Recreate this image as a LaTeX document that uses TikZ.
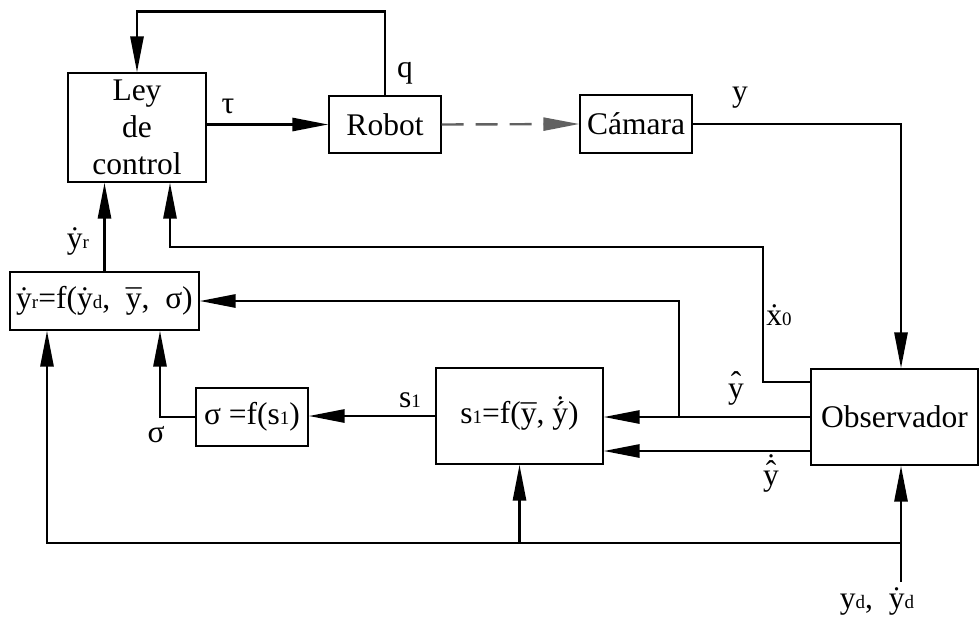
\documentclass[tikz,border=0pt]{standalone}
\usepackage{fontspec}
\setmainfont{Liberation Serif}
\usetikzlibrary{arrows.meta}
\newcommand\ac[3][0pt]{\ooalign{#3\cr\hidewidth\raisebox{#1}{#2}\hidewidth\cr}}
\newcommand\lo[1]{{\fontsize{19}{19}\selectfont #1}}
\tikzset{
  blk/.style={draw, line width=1.2pt, inner sep=0pt, align=center, font=\fontsize{31.5}{37}\selectfont},
  conn/.style={line width=2.8pt, -{Triangle[length=36pt,width=13pt]}},
  dashconn/.style={line width=2.4pt, draw=black!62, dash pattern=on 22pt off 12pt, -{Triangle[length=36pt,width=13pt]}},
  lbl/.style={font=\fontsize{31.5}{37}\selectfont, inner sep=0pt},
}
\begin{document}
\begin{tikzpicture}[x=1pt,y=-1pt]
\useasboundingbox[fill=white] (0,0) rectangle (980,629);
% blocks
\node[blk, minimum width=138pt, minimum height=109pt] (ley) at (137,127.5) {Ley\\de\\control};
\node[blk, minimum width=112pt, minimum height=57pt] (robot) at (385,124.5) {Robot};
\node[blk, minimum width=112pt, minimum height=58pt] (cam) at (636,124) {Cámara};
\node[blk, minimum width=167pt, minimum height=96pt] (obs) at (894.5,417) {Observador};
\node[blk, minimum width=167pt, minimum height=96pt] (s1) at (519.5,416) {s\lo{1}=f(\ac[-0.08em]{¯}{y}, \ac[0.2em]{˙}{\ac{´}{y}})};
\node[blk, minimum width=112pt, minimum height=58pt] (sig) at (252,417) {σ =f(s\lo{1})};
\node[blk, minimum width=189pt, minimum height=58pt] (yr) at (104.5,301) {\ac{˙}{y}\lo{r}=f(\ac{˙}{y}\lo{d},\enspace\ac[-0.08em]{¯}{y},\enspace σ)};
% free end
\coordinate (inp) at (901,582);
% connectors
\draw[conn] (robot.north) -- ++(0,-84) -| (ley.north);
\draw[conn] (ley.east |- robot.west) -- (robot.west);
\draw[dashconn] (robot.east) -- (cam.west);
\draw[conn] (cam.east) -| ([xshift=6.5pt]obs.north);
\draw[conn] ([yshift=35pt]obs.west) -| (763,247) -| ([xshift=33pt]ley.south);
\draw[conn] (obs.west) -- (obs.west -| s1.east);
\draw[conn] (679,417) |- (yr.east);
\draw[conn] ([yshift=-34pt]obs.west) -- ([yshift=-34pt]obs.west -| s1.east);
\draw[conn] (s1.west) -- (s1.west -| sig.east);
\draw[conn] (sig.west) -| ([xshift=55.5pt]yr.south);
\draw[conn] (yr.north) -- (yr.north |- ley.south);
\draw[conn] (inp) -- ([xshift=6.5pt]obs.south);
\draw[conn] (inp |- 0,543) -| ([xshift=-57.5pt]yr.south);
\draw[conn] (s1.south |- 0,543) -- (s1.south);
% labels
\node[lbl] (ltau) at (228,106) {τ};
\node[lbl] (lq) at (405,73) {q};
\node[lbl] (ly) at (740,98) {y};
\node[lbl] (lx0) at (779,318) {\ac{˙}{x}\lo{0}};
\node[lbl] (lyh) at (736,391) {\ac[0.15em]{ˆ}{y}};
\node[lbl] (lyhd) at (771,478) {\ac[0.32em]{˙}{\ac[0.1em]{ˆ}{y}}};
\node[lbl] (ls1) at (410,400) {s\lo{1}};
\node[lbl] (lsig) at (156,435) {σ};
\node[lbl] (lyr) at (78,241) {\ac{˙}{y}\lo{r}};
\node[lbl] (lyd) at (877,605) {y\lo{d},\enspace\ac{˙}{y}\lo{d}};
\end{tikzpicture}
\end{document}
